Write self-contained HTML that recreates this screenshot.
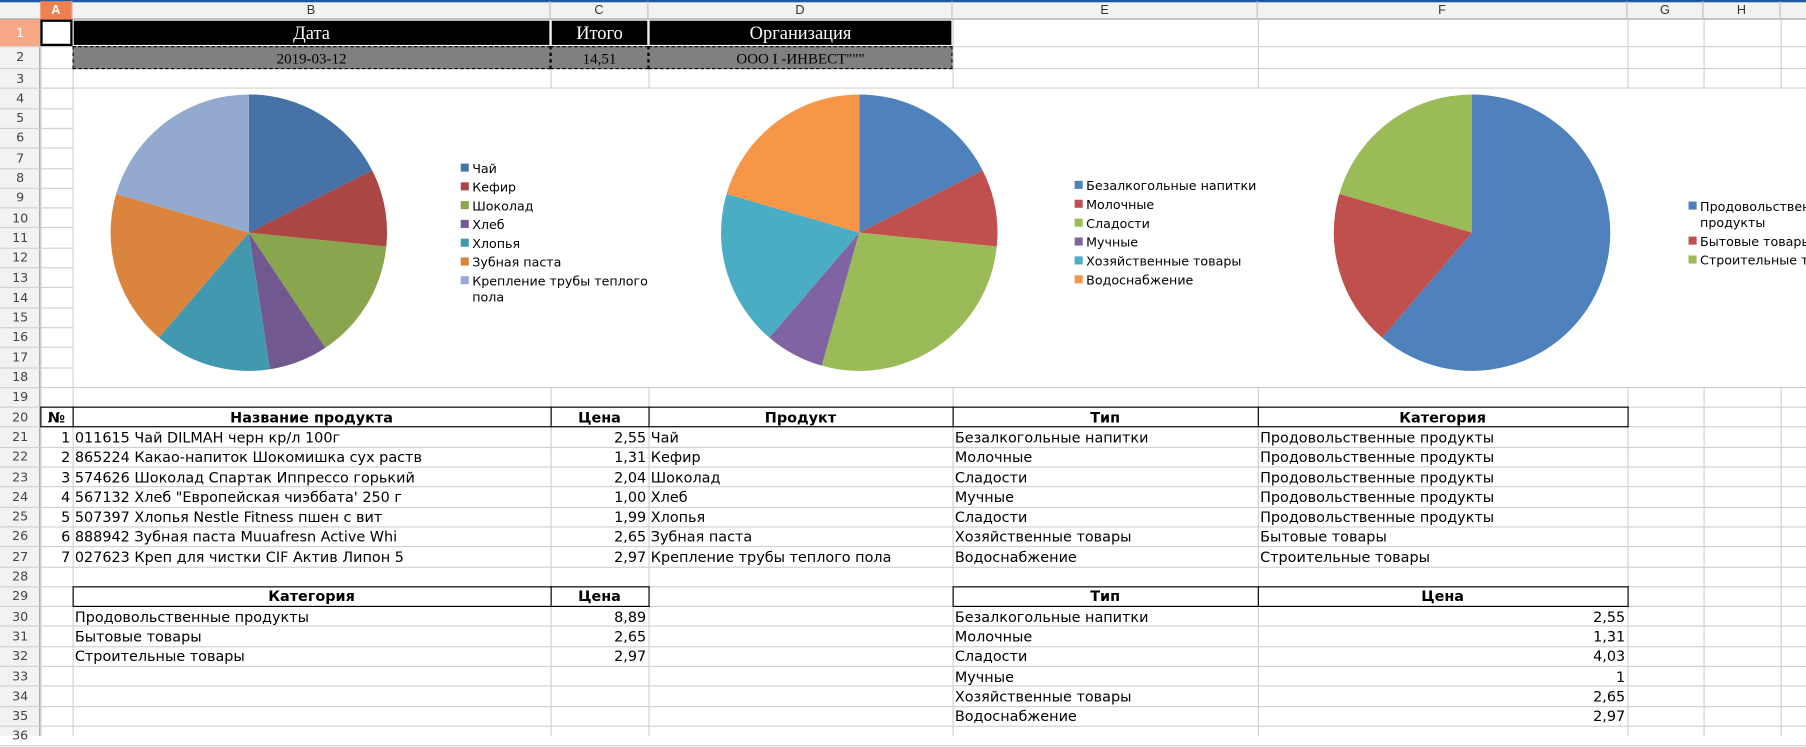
<!DOCTYPE html>
<html><head><meta charset="utf-8">
<style>
html,body{margin:0;padding:0;background:#fff;overflow:hidden;width:1806px;height:736px}
#s{position:absolute;left:0;top:0;width:1568px;height:639px;transform:scale(1.1518);transform-origin:0 0;font-family:"DejaVu Sans","Liberation Sans",sans-serif;font-size:12.5px;color:#000}
.c{position:absolute;white-space:nowrap;overflow:hidden;line-height:17px;box-sizing:border-box}
.l{position:absolute;background:#d0d0d0}
.k{position:absolute;background:#000}
</style></head><body>
<div id="s"></div>
<script>
const cats1=["Чай","Кефир","Шоколад","Хлеб","Хлопья","Зубная паста","Крепление трубы теплого пола"];
const vals1=[2.55,1.31,2.04,1.00,1.99,2.65,2.97];
const cats2=["Безалкогольные напитки","Молочные","Сладости","Мучные","Хозяйственные товары","Водоснабжение"];
const vals2=[2.55,1.31,4.03,1,2.65,2.97];
const cats3=["Продовольственные продукты","Бытовые товары","Строительные товары"];
const vals3=[8.89,2.65,2.97];
const S=document.getElementById('s');
const colX=[35,63,478,563,827,1092,1413,1479,1546,1600];
const colN=["A","B","C","D","E","F","G","H",""];
function rowTop(r){if(r===1)return 17;if(r===2)return 40;return 59.5+(r-3)*17.3;}
function rowBot(r){return r===1?40:r===2?59.5:rowTop(r)+17.3;}
function div(cls,x,y,w,h,css){const d=document.createElement('div');d.className=cls;d.style.left=x+'px';d.style.top=y+'px';d.style.width=w+'px';d.style.height=h+'px';if(css)d.style.cssText+=css;S.appendChild(d);return d;}
let hb=div('c',0,0,1568,17,'background:#f2f2f2;border-bottom:1px solid #a0a0a0');


div('c',0,0,1568,1.5,'background:#1f5aa0');
let rb=div('c',0,17,35,622,'background:#f2f2f2;border-right:1px solid #a0a0a0');


for(let i=0;i<8;i++){
  const x=colX[i],w=colX[i+1]-x;
  const h=div('c',x,1,w,16,'text-align:center;font-size:11px;line-height:16px;color:#333;border-right:1px solid #c0c0c0;font-family:"Liberation Sans",sans-serif');
  if(i===0)h.style.cssText+='background:#f08050;color:#fff;font-weight:bold';
  h.textContent=colN[i];
  
  
}
for(let r=1;r<=37;r++){
  const y=rowTop(r);if(y>639)break;
  div('l',0,rowBot(r)-0.5,1568,1);
  const n=div('c',0,y,35,rowBot(r)-y,'text-align:center;font-size:11px;color:#444;line-height:'+(rowBot(r)-y)+'px');
  if(r===1)n.style.cssText+='background:#f6a888;color:#fff';
  n.textContent=r;
  
  
}
for(let i=0;i<colX.length;i++)div('l',colX[i]-0.5,17,1,622);
div('c',63.5,rowTop(4),1505,rowBot(18)-rowTop(4)-0.5,'background:#fff');
function cell(r,c0,c1,txt,css,name){
  const x=colX[c0],w=colX[c1]-x,y=rowTop(r),h=rowBot(r)-y;
  const d=div('c',x,y,w,h,'padding:0 2px;line-height:'+h+'px;'+(css||''));
  d.textContent=txt;
  
  
  return d;
}
const hd='background:#000;color:#fff;text-align:center;font-family:"Liberation Serif",serif;font-size:16px;border:1px solid #fff';
cell(1,0,1,'','background:#fff;border:2px solid #000','cell-a1');
cell(1,1,2,'Дата',hd,'header-date');
cell(1,2,3,'Итого',hd,'header-total');
cell(1,3,4,'Организация',hd,'header-organization');
const gd='background:#808080;color:#000;text-align:center;font-family:"Liberation Serif",serif;font-size:13px;border:1.5px dashed #000';
cell(2,1,2,'2019-03-12',gd,'date-value');
cell(2,2,3,'14,51',gd,'total-value');
cell(2,3,4,'ООО I -ИНВЕСТ"""',gd,'organization-value');
const NS='http://www.w3.org/2000/svg';
const svg=document.createElementNS(NS,'svg');
svg.setAttribute('width','1568');svg.setAttribute('height','639');
svg.style.cssText='position:absolute;left:0;top:0';


S.appendChild(svg);
function pie(vals,cats,colors,cx,cy,r,lx,ly,lsp,name){
  const tot=vals.reduce((a,b)=>a+b,0);let a=-Math.PI/2;
  vals.forEach((v,i)=>{
    const a2=a+v/tot*2*Math.PI;
    const p=document.createElementNS(NS,'path');
    const x1=cx+r*Math.cos(a),y1=cy+r*Math.sin(a),x2=cx+r*Math.cos(a2),y2=cy+r*Math.sin(a2);
    p.setAttribute('d',`M${cx},${cy}L${x1},${y1}A${r},${r} 0 ${a2-a>Math.PI?1:0} 1 ${x2},${y2}Z`);
    p.setAttribute('fill',colors[i]);
    
    
    svg.appendChild(p);a=a2;
  });
  let y=ly;
  cats.forEach((c,i)=>{
    const q=document.createElementNS(NS,'rect');
    q.setAttribute('x',lx);q.setAttribute('y',y-4);q.setAttribute('width',7);q.setAttribute('height',7);q.setAttribute('fill',colors[i]);
    
    
    svg.appendChild(q);
    const lines=c.length>22&&name==='pie1'?['Крепление трубы теплого','пола']:c.length>20&&name==='pie3'?['Продовольственные','продукты']:[c];
    lines.forEach((t,j)=>{
      const tx=document.createElementNS(NS,'text');
      tx.setAttribute('x',lx+10);tx.setAttribute('y',y+4+j*14);
      tx.setAttribute('font-size','11');tx.setAttribute('font-family','DejaVu Sans, sans-serif');
      tx.textContent=t;
      
      
      svg.appendChild(tx);
    });
    y+=lsp+(lines.length-1)*14;
  });
}
pie(vals1,cats1,["#4672a8","#aa4643","#89a54e","#71588f","#4198af","#db843d","#93a9cf"],216,202,120,400,146,16.3,'pie1');
pie(vals2,cats2,["#4f81bd","#c0504d","#9bbb59","#8064a2","#4bacc6","#f79646"],746,202,120,933,161,16.4,'pie2');
pie(vals3,cats3,["#4f81bd","#c0504d","#9bbb59"],1278,202,120,1466,179,16.4,'pie3');
const bh='font-weight:bold;text-align:center;';
[[0,1,'№'],[1,2,'Название продукта'],[2,3,'Цена'],[3,4,'Продукт'],[4,5,'Тип'],[5,6,'Категория']].forEach((h,i)=>cell(20,h[0],h[1],h[2],bh,'table-header-'+(i+1)));
function box(r0,r1,c0,c1){const x0=colX[c0],x1=colX[c1],y0=rowTop(r0),y1=rowBot(r1);
  div('k',x0-0.5,y0-0.5,x1-x0+1,1);div('k',x0-0.5,y1-0.5,x1-x0+1,1);
  for(let c=c0;c<=c1;c++)div('k',colX[c]-0.5,y0-0.5,1,y1-y0+1);}
box(20,20,0,6);
const codes=["011615 Чай DILMAH черн кр/л 100г","865224 Какао-напиток Шокомишка сух раств","574626 Шоколад Спартак Иппрессо горький","567132 Хлеб \"Европейская чиэббата' 250 г","507397 Хлопья Nestle Fitness пшен с вит","888942 Зубная паста Muuafresn Active Whi","027623 Креп для чистки CIF Актив Липон 5"];
const typ=["Безалкогольные напитки","Молочные","Сладости","Мучные","Сладости","Хозяйственные товары","Водоснабжение"];
const catg=["Продовольственные продукты","Продовольственные продукты","Продовольственные продукты","Продовольственные продукты","Продовольственные продукты","Бытовые товары","Строительные товары"];
codes.forEach((t,i)=>{const r=21+i;
  cell(r,0,1,String(i+1),'text-align:right','row-number-'+(i+1));
  cell(r,1,2,t,'','product-name-'+(i+1));
  cell(r,2,3,vals1[i].toFixed(2).replace('.',','),'text-align:right','price-'+(i+1));
  cell(r,3,4,cats1[i],'','product-'+(i+1));
  cell(r,4,5,typ[i],'','type-'+(i+1));
  cell(r,5,6,catg[i],'','category-'+(i+1));
});
cell(29,1,2,'Категория',bh,'category-summary-header');
cell(29,2,3,'Цена',bh,'category-price-header');
box(29,29,1,3);
cats3.forEach((c,i)=>{cell(30+i,1,2,c,'','category-summary-'+(i+1));cell(30+i,2,3,vals3[i].toFixed(2).replace('.',','),'text-align:right','category-total-'+(i+1));});
cell(29,4,5,'Тип',bh,'type-summary-header');
cell(29,5,6,'Цена',bh,'type-price-header');
box(29,29,4,6);
cats2.forEach((c,i)=>{cell(30+i,4,5,c,'','type-summary-'+(i+1));cell(30+i,5,6,String(vals2[i]).replace('.',','),'text-align:right','type-total-'+(i+1));});
</script>
</body></html>
